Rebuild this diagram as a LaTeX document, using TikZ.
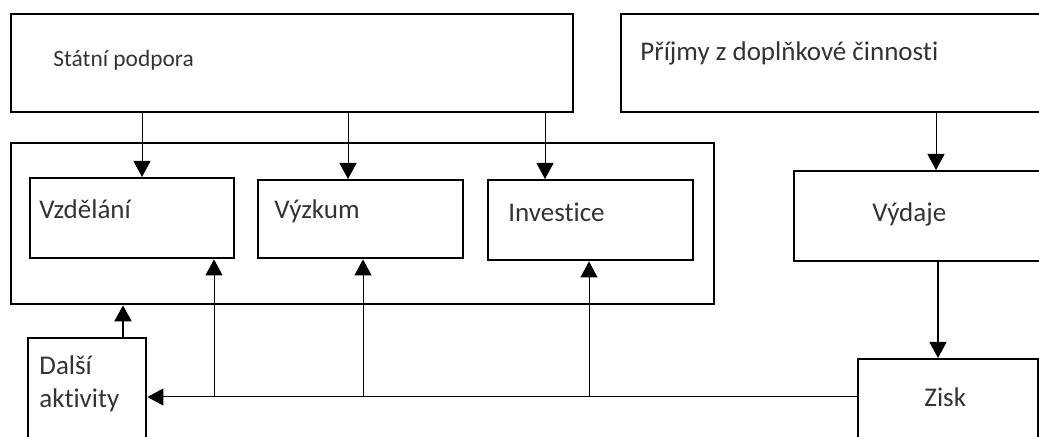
\documentclass[tikz,border=0pt]{standalone}
\usepackage{fontspec}
\setmainfont{Carlito}[Ligatures=NoCommon]
\usetikzlibrary{arrows.meta, calc}

\begin{document}
\begin{tikzpicture}[x=0.5pt, y=-0.5pt,
		box/.style={draw, line width=1.2pt, inner sep=0pt, anchor=north west},
		label text/.style={anchor=base west, inner sep=0pt, text=black!80, align=left,
			font=\fontsize{13.5}{16.5}\selectfont},
		arr/.style={-{Triangle[width=8.5pt, length=8pt]}, line width=0.5pt},
		thick arr/.style={arr, line width=1.2pt}]
					\def\px{0.5pt}
					
					\useasboundingbox (0,0) rectangle (1039,437);
					
					% upper boxes
					\node [box, minimum width=562*\px, minimum height=98*\px] (statni) at (10,13) {};
					\node [box, minimum width=430*\px, minimum height=98*\px] (prijmy) at (620,13) {};
					
					% group box with its three parts
					\node [box, minimum width=703*\px, minimum height=161*\px] (skupina) at (10,142) {};
					\node [box, minimum width=204*\px, minimum height=80*\px] (vzdelani) at (29,177) {};
					\node [box, minimum width=205*\px, minimum height=78*\px] (vyzkum) at (257,179) {};
					\node [box, minimum width=205*\px, minimum height=80*\px] (investice) at (487,179) {};
					
					% right column and bottom boxes
					\node [box, minimum width=260*\px, minimum height=90*\px] (vydaje) at (793,170) {};
					\node [box, minimum width=180*\px, minimum height=95*\px] (zisk) at (857,358) {};
					\node [box, minimum width=118*\px, minimum height=115*\px] (dalsi) at (27,337) {};
					
					% texts
					\node [label text, font=\fontsize{11.7}{14}\selectfont] (t-statni) at (53,67) {Státní podpora};
					\node [label text] (t-prijmy) at (640,61) {Příjmy z doplňkové činnosti};
					\node [label text] (t-vzdelani) at (39,219) {Vzdělání};
					\node [label text] (t-vyzkum) at (274,219) {Výzkum};
					\node [label text] (t-investice) at (508,222) {Investice};
					\node [label text] (t-vydaje) at (872,222) {Výdaje};
					\node [label text] (t-zisk) at (924,407) {Zisk};
					\node [label text] (t-dalsi) at (39,408) {Další\\aktivity};
					
					% state support
					\draw [arr] (statni.south -| 142,0) -- (vzdelani.north -| 142,0);
					\draw [arr] (statni.south -| 348,0) -- (vyzkum.north -| 348,0);
					\draw [arr] (statni.south -| 545,0) -- (investice.north -| 545,0);
					
					% income, costs, profit
					\draw [arr] (prijmy.south -| 936,0) -- (vydaje.north -| 936,0);
					\draw [arr, line width=0.8pt] (vydaje.south -| 938,0) -- (zisk.north -| 938,0);
					
					\coordinate (spoj) at (zisk.north west |- 0,397);
					\draw [arr] (spoj) -- (dalsi.east |- spoj);
					\draw [arr] (spoj -| 214,0) -- (vzdelani.south -| 214,0);
					\draw [arr] (spoj -| 363,0) -- (vyzkum.south -| 363,0);
					\draw [arr] (spoj -| 589,0) -- (investice.south -| 589,0);
					
					\draw [thick arr] (dalsi.north -| 123,0) -- (skupina.south -| 123,0);
				\end{tikzpicture}
\end{document}
